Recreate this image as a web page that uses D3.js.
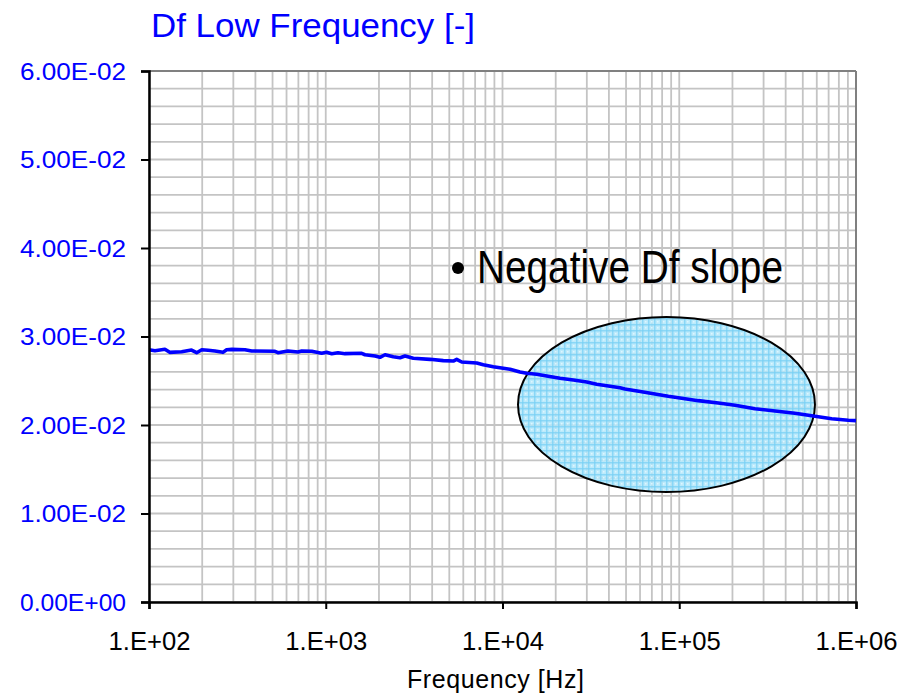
<!DOCTYPE html>
<html>
<head>
<meta charset="utf-8">
<script src="https://cdn.jsdelivr.net/npm/d3@7"></script>
<style>
  html, body { margin: 0; padding: 0; background: #fff; }
  svg { display: block; }
</style>
</head>
<body>
<svg id="chart" width="899" height="695"></svg>
<script>
// ---------- data ----------
const frequency = [100, 108, 123, 131, 153, 174, 186, 199, 216, 236, 262, 275, 294, 349, 381, 516, 537, 611, 697, 731, 833, 948, 1012, 1081, 1173, 1285, 1597, 1667, 1900, 2027, 2164, 2411, 2630, 2808, 3128, 3890, 4624, 5267, 5506, 5879, 7146, 7786, 8870, 10100, 11030, 12560, 13710, 15620, 17790, 21150, 25170, 29950, 34120, 38900, 46240, 49320, 61310, 72930, 86700, 103200, 128200, 166300, 206800, 268300, 348200, 451700, 586100, 728700, 904500, 1000000];
const dfValue = [0.02851, 0.02840, 0.02855, 0.02821, 0.02828, 0.02847, 0.02817, 0.02851, 0.02844, 0.02836, 0.02821, 0.02851, 0.02855, 0.02851, 0.02836, 0.02833, 0.02817, 0.02836, 0.02825, 0.02836, 0.02833, 0.02810, 0.02821, 0.02806, 0.02817, 0.02806, 0.02810, 0.02794, 0.02780, 0.02765, 0.02794, 0.02772, 0.02760, 0.02780, 0.02754, 0.02742, 0.02727, 0.02723, 0.02742, 0.02712, 0.02701, 0.02681, 0.02659, 0.02641, 0.02629, 0.02599, 0.02584, 0.02573, 0.02554, 0.02528, 0.02508, 0.02486, 0.02460, 0.02444, 0.02421, 0.02407, 0.02376, 0.02350, 0.02324, 0.02302, 0.02275, 0.02249, 0.02223, 0.02184, 0.02158, 0.02132, 0.02098, 0.02071, 0.02053, 0.02049];
const xTickValues = [1e2, 1e3, 1e4, 1e5, 1e6];
const xTickLabels = ["1.E+02", "1.E+03", "1.E+04", "1.E+05", "1.E+06"];
const yTickValues = [0, 0.01, 0.02, 0.03, 0.04, 0.05, 0.06];
const yTickLabels = ["0.00E+00", "1.00E-02", "2.00E-02", "3.00E-02", "4.00E-02", "5.00E-02", "6.00E-02"];
const titleText = "Df Low Frequency [-]";
const xAxisTitle = "Frequency [Hz]";
const noteText = "Negative Df slope";
// ellipse highlight in data space
const ellipseFreqRange = [12240, 586000];
const ellipseValueRange = [0.01243, 0.0322];

// ---------- layout ----------
const svg = d3.select("#chart");
const L = 149, R = 856, T = 71, B = 602;
const FONT = "'Liberation Sans', Arial, sans-serif";

const x = d3.scaleLog().domain([1e2, 1e6]).range([L, R]);
const y = d3.scaleLinear().domain([0, 0.06]).range([B, T]);

// pattern for ellipse fill
const defs = svg.append("defs");
const pat = defs.append("pattern")
  .attr("id", "plaid").attr("patternUnits", "userSpaceOnUse")
  .attr("width", 6).attr("height", 6);
pat.append("rect").attr("width", 6).attr("height", 6).attr("fill", "#b0e6fb").attr("fill-opacity", 0.85);
pat.append("rect").attr("x", 0).attr("y", 0).attr("width", 6).attr("height", 1.5).attr("fill", "#78d0f4").attr("fill-opacity", 0.75);
pat.append("rect").attr("x", 0).attr("y", 0).attr("width", 1.5).attr("height", 6).attr("fill", "#78d0f4").attr("fill-opacity", 0.75);
pat.append("rect").attr("x", 3).attr("y", 3).attr("width", 1.5).attr("height", 1.5).attr("fill", "#e6f8ff").attr("fill-opacity", 0.8);

// grid
const gridColor = "#c4c4c4";
const minorX = [];
for (let e = 2; e < 6; e++) for (let m = 1; m <= 9; m++) minorX.push(m * Math.pow(10, e));
minorX.push(1e6);
svg.append("g").selectAll("line").data(minorX).join("line")
  .attr("x1", d => x(d)).attr("x2", d => x(d))
  .attr("y1", T).attr("y2", B)
  .attr("stroke", gridColor).attr("stroke-width", 1.8);

const minorY = d3.range(0, 31).map(i => i * 0.002);
svg.append("g").selectAll("line").data(minorY).join("line")
  .attr("x1", L).attr("x2", R)
  .attr("y1", d => y(d)).attr("y2", d => y(d))
  .attr("stroke", gridColor).attr("stroke-width", 1.8);

// frame top/right
svg.append("line").attr("x1", L).attr("x2", R).attr("y1", T).attr("y2", T)
  .attr("stroke", "#808080").attr("stroke-width", 2);
svg.append("line").attr("x1", R).attr("x2", R).attr("y1", T).attr("y2", B)
  .attr("stroke", "#808080").attr("stroke-width", 2);

// ellipse
const ex0 = x(ellipseFreqRange[0]), ex1 = x(ellipseFreqRange[1]);
const ey0 = y(ellipseValueRange[1]), ey1 = y(ellipseValueRange[0]);
svg.append("ellipse")
  .attr("cx", (ex0 + ex1) / 2).attr("cy", (ey0 + ey1) / 2)
  .attr("rx", (ex1 - ex0) / 2).attr("ry", (ey1 - ey0) / 2)
  .attr("fill", "url(#plaid)")
  .attr("stroke", "#000").attr("stroke-width", 2);

// data line
const data = frequency.map((f, i) => ({ f, v: dfValue[i] }));
svg.append("path").datum(data)
  .attr("d", d3.line().x(d => x(d.f)).y(d => y(d.v)))
  .attr("fill", "none").attr("stroke", "#0000ff").attr("stroke-width", 3.6)
  .attr("stroke-linejoin", "round");

// axes
const yAxis = d3.axisLeft(y).tickValues(yTickValues)
  .tickFormat((d, i) => yTickLabels[i]).tickSize(8).tickPadding(15);
const gy = svg.append("g").attr("transform", `translate(${L},0)`).call(yAxis);
gy.select(".domain").attr("stroke", "#000").attr("stroke-width", 2.5);
gy.selectAll(".tick line").attr("stroke", "#000").attr("stroke-width", 2);
gy.selectAll(".tick text").attr("fill", "#0000ff")
  .style("font-family", FONT).style("font-size", "23px")
  .attr("textLength", 106).attr("lengthAdjust", "spacingAndGlyphs")
  .attr("dy", "0.36em");

const xAxis = d3.axisBottom(x).tickValues(xTickValues)
  .tickFormat((d, i) => xTickLabels[i]).tickSize(7).tickPadding(14);
const gx = svg.append("g").attr("transform", `translate(0,${B})`).call(xAxis);
gx.select(".domain").attr("stroke", "#000").attr("stroke-width", 2.5);
gx.selectAll(".tick line").attr("stroke", "#000").attr("stroke-width", 2);
gx.selectAll(".tick text").attr("fill", "#000")
  .style("font-family", FONT).style("font-size", "25px")
  .attr("textLength", 82).attr("lengthAdjust", "spacingAndGlyphs")
  .attr("y", 48).attr("dy", "0");

// title
svg.append("text").attr("x", 151).attr("y", 37).text(titleText)
  .attr("fill", "#0000ff")
  .attr("textLength", 324).attr("lengthAdjust", "spacingAndGlyphs")
  .style("font-family", FONT).style("font-size", "34px");

// axis title
svg.append("text").attr("x", 407).attr("y", 688)
  .text(xAxisTitle).attr("fill", "#000")
  .attr("textLength", 177).attr("lengthAdjust", "spacing")
  .style("font-family", FONT).style("font-size", "25px");

// annotation
svg.append("circle").attr("cx", 458).attr("cy", 268).attr("r", 6).attr("fill", "#000");
svg.append("text").attr("x", 477).attr("y", 283).text(noteText)
  .attr("fill", "#000")
  .attr("textLength", 306).attr("lengthAdjust", "spacingAndGlyphs")
  .style("font-family", "'Liberation Sans Narrow', 'Arial Narrow', 'Liberation Sans', sans-serif")
  .style("font-size", "46px");
</script>
</body>
</html>
